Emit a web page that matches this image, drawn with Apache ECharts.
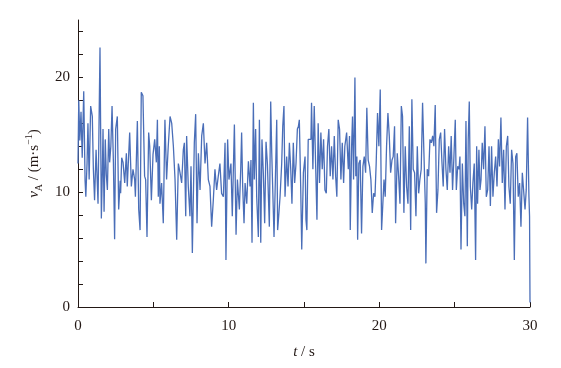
<!DOCTYPE html>
<html><head><meta charset="utf-8">
<script src="https://cdn.jsdelivr.net/npm/echarts@6/dist/echarts.min.js"></script>
<style>html,body{margin:0;padding:0;background:#fff}#c{width:561px;height:368px}</style>
</head><body><div id="c"></div>
<script>
const times = [0.00,0.05,0.12,0.20,0.28,0.38,0.47,0.52,0.60,0.66,0.74,0.84,0.95,1.02,1.10,1.20,1.33,1.46,1.55,1.62,1.66,1.73,1.81,1.88,1.95,2.04,2.10,2.18,2.26,2.35,2.43,2.50,2.61,2.70,2.80,2.83,2.90,2.99,3.10,3.21,3.27,3.43,3.54,3.65,3.76,3.81,3.94,4.03,4.12,4.20,4.31,4.42,4.49,4.58,4.69,4.76,4.87,4.98,5.09,5.20,5.27,
5.33,5.40,5.44,5.55,5.66,5.77,5.88,5.99,6.11,6.22,6.33,6.44,6.55,6.66,6.77,6.88,6.99,7.06,7.15,7.21,7.32,7.43,7.50,7.59,7.72,7.81,7.90,7.99,8.10,8.21,8.32,8.43,8.54,8.65,8.76,8.87,8.98,9.09,9.20,9.31,9.42,9.53,9.65,9.76,9.82,9.93,10.02,10.15,10.24,10.38,
10.49,10.58,10.71,10.80,10.86,10.93,11.02,11.09,11.20,11.31,11.42,11.48,11.55,11.64,11.70,11.79,11.86,11.97,12.04,12.13,12.21,12.30,12.39,12.48,12.57,12.70,12.79,12.86,12.92,13.01,13.10,13.19,13.25,13.32,13.41,13.52,13.59,13.67,13.74,13.85,13.94,14.03,14.12,14.20,14.29,14.38,14.47,14.56,14.63,14.69,14.78,14.85,14.96,15.07,15.13,15.19,15.28,
15.37,15.46,15.50,15.59,15.68,15.77,15.86,15.94,16.03,16.12,16.21,16.30,16.39,16.48,16.56,16.65,16.74,16.83,16.92,17.01,17.10,17.18,17.27,17.36,17.45,17.54,17.63,17.71,17.83,17.94,18.02,18.07,18.16,18.22,18.29,18.38,18.44,18.51,18.56,18.64,18.73,18.82,18.91,19.00,19.09,19.17,19.26,19.35,19.44,19.53,19.62,19.71,19.79,19.88,19.97,20.06,20.15,
20.31,20.39,20.48,20.57,20.66,20.75,20.84,20.92,21.01,21.08,21.19,21.28,21.37,21.46,21.54,21.63,21.72,21.81,21.90,21.99,22.08,22.16,22.25,22.34,22.43,22.52,22.61,22.69,22.78,22.87,22.96,23.05,23.09,23.18,23.27,23.36,23.45,23.54,23.62,23.71,23.80,23.89,23.98,24.07,24.16,24.24,24.33,24.42,24.51,24.60,24.69,24.77,24.86,24.95,25.04,
25.11,25.20,25.29,25.35,25.42,25.51,25.60,25.68,25.75,25.84,25.90,25.97,26.04,26.13,26.21,26.30,26.39,26.46,26.52,26.61,26.68,26.75,26.83,26.92,27.01,27.10,27.19,27.28,27.37,27.45,27.54,27.63,27.72,27.81,27.90,27.98,28.07,28.16,28.25,28.34,28.43,28.52,28.60,28.69,28.78,28.87,28.96,29.05,29.13,29.22,29.31,29.40,29.49,29.58,29.67,29.75,29.84,29.93,29.97,30.00];
const speeds = [12.5,18.0,14.5,17.0,13.0,18.8,11.0,9.6,12.5,16.0,11.1,17.5,16.6,12.0,9.3,13.7,9.0,22.6,7.7,12.0,15.5,8.3,14.6,11.5,10.2,15.5,12.6,14.0,17.5,12.6,5.9,15.5,16.6,8.5,11.0,9.9,13.0,12.6,10.8,13.4,10.5,15.2,10.5,12.0,11.1,9.6,16.2,8.5,6.7,18.7,18.4,11.4,11.1,6.1,15.2,14.0,9.3,13.3,14.6,12.6,16.3,
9.6,14.0,9.0,10.8,7.3,16.3,11.1,14.0,16.6,16.0,14.0,11.1,5.85,12.5,11.7,10.8,13.7,14.3,7.9,14.9,10.5,7.9,12.25,4.7,14.3,16.8,7.3,13.4,10.2,14.9,16.0,12.5,14.3,11.1,10.5,7.0,9.3,12.0,10.2,11.4,12.5,9.9,9.6,14.3,4.1,14.6,11.1,12.5,7.9,15.9,
6.3,11.1,8.5,12.0,15.2,10.5,7.3,10.8,9.0,12.7,10.5,12.8,5.6,17.8,11.1,15.5,9.6,6.1,16.3,5.6,14.6,11.7,7.3,14.4,12.5,7.0,17.9,13.4,10.5,6.1,11.1,16.3,6.7,7.9,9.6,12.5,15.75,17.5,9.6,13.1,10.5,14.3,12.0,9.0,14.3,10.8,12.5,15.5,15.75,16.3,10.5,5.0,11.7,13.1,7.6,6.7,14.6,
14.7,14.6,17.8,12.0,17.5,12.5,7.6,16.0,10.8,15.2,12.0,14.6,10.2,9.9,14.0,15.5,11.4,14.0,11.1,14.9,11.4,9.6,16.3,15.5,11.1,14.3,10.8,14.0,15.2,12.0,14.9,6.7,14.0,16.6,11.1,20.0,11.4,13.1,5.85,12.5,12.8,6.4,12.25,13.1,11.7,17.35,12.8,12.25,11.1,8.2,9.9,9.6,12.5,16.9,14.0,18.95,6.7,
11.1,9.6,14.0,16.9,14.9,11.7,12.8,13.1,15.75,7.3,13.4,11.4,9.0,17.5,16.6,8.2,14.0,10.5,9.0,15.75,6.7,18.1,12.0,11.7,7.9,14.0,9.9,11.1,12.0,17.8,13.4,9.0,3.8,12.0,11.4,14.6,14.3,14.9,14.0,17.6,8.2,10.2,14.6,15.2,12.5,10.5,15.5,12.0,10.2,14.0,11.7,14.9,10.2,13.1,16.3,
10.2,12.25,12.0,13.1,5.0,12.5,9.0,7.9,16.2,5.3,14.6,17.9,10.5,8.5,10.8,12.5,4.1,14.0,9.0,13.7,10.2,11.1,14.3,12.0,15.75,9.6,10.2,14.0,8.8,14.0,9.6,11.7,13.1,10.5,14.6,12.25,16.5,10.8,13.7,8.5,14.0,14.9,10.5,9.0,13.7,12.5,4.1,13.1,13.4,9.6,10.8,7.0,11.7,11.7,8.5,10.2,16.5,9.6,7.9,0.4];
const xTickLabels = [0, 10, 20, 30];
const yTickLabels = [0, 10, 20];

const chart = echarts.init(document.getElementById('c'), null, {renderer: 'canvas'});
const font = '"Liberation Serif", "DejaVu Serif", serif';
const data = times.map((t, i) => [t, speeds[i]]);
chart.setOption({
  animation: false,
  backgroundColor: '#fff',
  grid: {left: 78, right: 31, top: 20, bottom: 61, containLabel: false},
  xAxis: {
    type: 'value', min: 0, max: 30, interval: 5,
    axisLine: {lineStyle: {color: '#231815', width: 1}},
    axisTick: {inside: true, length: 5, lineStyle: {color: '#231815'}},
    axisLabel: {customValues: xTickLabels, fontFamily: font, fontSize: 15, color: '#231815', margin: 12},
    splitLine: {show: false},
    name: '{i|t} / s', nameLocation: 'middle', nameGap: 38,
    nameTextStyle: {fontFamily: font, fontSize: 15, color: '#231815',
      rich: {i: {fontStyle: 'italic', fontFamily: font, fontSize: 15, color: '#231815'}}}
  },
  yAxis: {
    type: 'value', min: 0, max: 25, interval: 2,
    axisLine: {show: true, lineStyle: {color: '#231815', width: 1}},
    axisTick: {show: true, inside: true, length: 5, customValues: [0,2,4,6,8,10,12,14,16,18,20,22,24], lineStyle: {color: '#231815'}},
    axisLabel: {customValues: yTickLabels, fontFamily: font, fontSize: 15, color: '#231815', margin: 8},
    splitLine: {show: false},
    name: '{i|v}{sub|A} / (m·s{sup|−1})', nameLocation: 'middle', nameGap: 33, nameRotate: 90,
    nameTextStyle: {fontFamily: font, fontSize: 15, color: '#231815', lineHeight: 20,
      rich: {
        i: {fontStyle: 'italic', fontFamily: font, fontSize: 15, color: '#231815', lineHeight: 20},
        sub: {fontFamily: font, fontSize: 10, color: '#231815', verticalAlign: 'bottom', lineHeight: 20},
        sup: {fontFamily: font, fontSize: 10, color: '#231815', verticalAlign: 'top', lineHeight: 20}
      }}
  },
  series: [{
    type: 'line', data: data, showSymbol: false, symbol: 'none',
    lineStyle: {color: '#4a6eb8', width: 1.3}, silent: true
  }]
});
</script></body></html>
